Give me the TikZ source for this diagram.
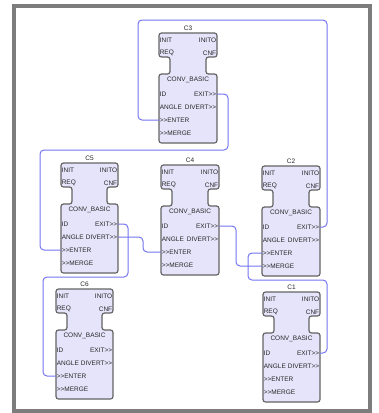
\documentclass[tikz,border=0pt]{standalone}
\usepackage{fontspec}
\setmainfont{Liberation Sans}
\definecolor{wireblue}{RGB}{118,118,240}
\definecolor{blkfill}{RGB}{230,228,250}
\definecolor{blkline}{RGB}{100,100,100}
\definecolor{framegray}{RGB}{125,125,125}
\newcommand{\outmk}{>\kern0pt>}
\tikzset{
  blk/.style={draw=blkline, fill=blkfill, line width=1.2pt, rounded corners=2.5pt},
  wire/.style={draw=wireblue, line width=1pt, rounded corners=4pt},
  port/.style={inner sep=0.6pt, font=\fontsize{6.5}{7}\selectfont, text=black!85},
  lbl/.style={inner sep=0pt, font=\fontsize{6.5}{7}\selectfont, text=black!85},
}
\newcommand{\fbblk}[4]{%
  \begin{scope}[shift={(#2,#3)}]
    \draw[blk] (0,5) -- (#4,5) -- (#4,29) -- ({#4-11},29) -- ({#4-11},46) -- (#4,46)
      -- (#4,115) -- (0,115) -- (0,46) -- (11,46) -- (11,29) -- (0,29) -- cycle;
    \node[lbl] (#1) at ({#4/2},0) {#1};
    \node[port,anchor=west] (#1-init) at (0,12) {INIT};
    \node[port,anchor=east] (#1-inito) at (#4,12) {INITO};
    \node[port,anchor=west] (#1-req) at (0,25) {REQ};
    \node[port,anchor=east] (#1-cnf) at (#4,25) {CNF};
    \node[port] (#1-type) at ({#4/2},52) {CONV\_BASIC};
    \node[port,anchor=west] (#1-id) at (0,66) {ID};
    \node[port,anchor=east] (#1-exit) at (#4,66) {EXIT\outmk};
    \node[port,anchor=west] (#1-angle) at (0,79) {ANGLE};
    \node[port,anchor=east] (#1-divert) at (#4,79) {DIVERT\outmk};
    \node[port,anchor=west] (#1-enter) at (0,92) {\outmk ENTER};
    \node[port,anchor=west] (#1-merge) at (0,105) {\outmk MERGE};
  \end{scope}}
\begin{document}
\begin{tikzpicture}[x=1pt,y=-1pt]
  \useasboundingbox[fill=white] (0,0) rectangle (379,413);
  \draw[framegray, line width=3.5pt] (14,6) rectangle (370,411);

  \fbblk{C3}{159}{28}{58}
  \fbblk{C5}{61}{158}{57}
  \fbblk{C4}{161}{160}{58}
  \fbblk{C2}{262}{161}{58}
  \fbblk{C6}{56}{284}{57}
  \fbblk{C1}{263}{287}{57}

  \draw[wire] (C2-exit.east) -| (327,20) -- (138,20) |- (C3-enter.west);
  \draw[wire] (C3-exit.east) -| (228,150) -- (40,150) |- (C5-enter.west);
  \draw[wire] (C5-exit.east) -| (128,277) -- (43,277) |- (C6-enter.west);
  \draw[wire] (C5-divert.east) -- ++(25,0) |- (C4-enter.west);
  \draw[wire] (C4-exit.east) -- ++(17,0) |- (C2-merge.west);
  \draw[wire] (C1-exit.east) -| (327,280) -- (248,280) |- (C2-enter.west);
\end{tikzpicture}
\end{document}
